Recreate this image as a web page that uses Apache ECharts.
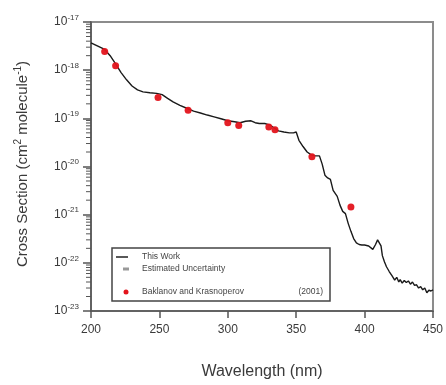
<!DOCTYPE html>
<html>
<head>
<meta charset="utf-8">
<script src="https://cdn.jsdelivr.net/npm/echarts@6/dist/echarts.min.js"></script>
<style>
  html, body { margin: 0; padding: 0; background: #fff; }
  #chart { width: 446px; height: 385px; }
</style>
</head>
<body>
<div id="chart"></div>
<script>
// "This Work" spectrum (nm, cm^2 molecule^-1)
const workWavelength = [
  200, 205, 210, 214, 218, 222, 226, 230, 234, 238, 243, 248, 252, 256, 260, 265, 270, 275, 280, 285,
  290, 295, 300, 305, 309, 313, 317, 320, 323, 327, 331, 334, 337, 341, 345, 348, 350, 352, 355, 358,
  361, 364, 367, 369, 371, 373, 375, 377, 380, 382, 384, 386, 388, 390, 392, 394, 396, 398, 400, 403,
  406, 408, 409.5, 410.5, 412, 413, 414.5, 416, 418, 420, 422, 423.5, 425, 426, 427.5, 429, 430.5, 432,
  433.5, 435, 436.5, 438, 439.5, 441, 442.5, 444, 445.5, 447, 448.5, 450
];
const workSigma = [
  3.7e-18, 3.16e-18, 2.69e-18, 2.0e-18, 1.35e-18, 8.9e-19, 6.3e-19, 4.7e-19, 3.9e-19, 3.55e-19,
  3.4e-19, 3.3e-19, 3.1e-19, 2.6e-19, 2.2e-19, 1.86e-19, 1.62e-19, 1.41e-19, 1.29e-19, 1.17e-19,
  1.07e-19, 9.8e-20, 8.9e-20, 8.5e-20, 8.1e-20, 8.7e-20, 8.9e-20, 8.1e-20, 7.8e-20, 7.8e-20,
  7.2e-20, 6.3e-20, 5.5e-20, 5.2e-20, 5.0e-20, 5.0e-20, 5.2e-20, 3.5e-20, 2.6e-20, 2.0e-20,
  1.74e-20, 1.66e-20, 1.66e-20, 1.12e-20, 6.6e-21, 5.8e-21, 5.4e-21, 3.2e-21, 2.4e-21, 1.58e-21,
  1.17e-21, 1.05e-21, 6.6e-22, 4.5e-22, 3.2e-22, 2.6e-22, 2.4e-22, 2.35e-22, 2.35e-22, 2.24e-22,
  1.9e-22, 2.4e-22, 3.0e-22, 3.3e-22, 2.24e-22, 1.41e-22, 1.05e-22, 8.3e-23, 6.6e-23, 5.4e-23,
  4.4e-23, 5.0e-23, 4.0e-23, 4.5e-23, 3.8e-23, 4.3e-23, 3.9e-23, 4.2e-23,
  3.6e-23, 4.0e-23, 3.4e-23, 3.5e-23, 3.0e-23, 3.2e-23, 2.75e-23, 3.0e-23, 2.4e-23, 2.7e-23, 2.6e-23, 2.75e-23
];

// Baklanov and Krasnoperov (2001)
const bkWavelength = [210, 218, 249, 271, 300, 308, 330, 334.5, 361.5, 390];
const bkSigma = [2.45e-18, 1.23e-18, 2.7e-19, 1.48e-19, 8.1e-20, 7.1e-20, 6.6e-20, 5.8e-20, 1.6e-20, 1.45e-21];

const xTicks = [200, 250, 300, 350, 400, 450];
const yExponents = [-23, -22, -21, -20, -19, -18, -17];
const minorMultipliers = [2, 3, 4, 5, 6, 7, 8, 9];

// the log scale loses precision near 1e-23, so plot in units of 1e-20 cm^2
const UNIT_EXP = -20;
const unit = Math.pow(10, UNIT_EXP);
const toUnit = s => s / unit;

const minorTicks = [];
yExponents.slice(0, -1).forEach(e => {
  minorMultipliers.forEach(m => minorTicks.push([200, m * Math.pow(10, e - UNIT_EXP)]));
});

const chart = echarts.init(document.getElementById('chart'));
const font = 'Liberation Sans, Arial, sans-serif';
const labelColor = '#3a3a3a';

chart.setOption({
  animation: false,
  backgroundColor: '#fff',
  grid: {
    left: 91, right: 12, top: 22, bottom: 68,
    show: true, borderColor: '#8c8c8c', borderWidth: 2
  },
  xAxis: {
    type: 'value', min: 200, max: 450, interval: 50,
    name: 'Wavelength (nm)', nameLocation: 'middle', nameGap: 53,
    nameTextStyle: { fontFamily: font, fontSize: 16, color: labelColor },
    axisLine: { lineStyle: { color: '#555', width: 1.5 } },
    axisTick: { length: 7, lineStyle: { color: '#555', width: 1.5 } },
    axisLabel: {
      margin: 13, fontFamily: font, fontSize: 12, color: labelColor,
      formatter: v => xTicks.includes(v) ? String(v) : ''
    },
    splitLine: { show: false }
  },
  yAxis: {
    type: 'log', logBase: 10,
    min: Math.pow(10, yExponents[0] - UNIT_EXP),
    max: Math.pow(10, yExponents[yExponents.length - 1] - UNIT_EXP),
    name: 'Cross Section (cm{sup|2} molecule{sup|-1})',
    nameLocation: 'middle', nameGap: 59,
    nameTextStyle: {
      fontFamily: font, fontSize: 15, color: labelColor, padding: [0, 0, 0, 5],
      rich: { sup: { fontFamily: font, fontSize: 10, color: labelColor, padding: [0, 0, 9, 0] } }
    },
    axisLine: { show: true, lineStyle: { color: '#555', width: 1.5 } },
    axisTick: { length: 8, lineStyle: { color: '#555', width: 1.5 } },
    axisLabel: {
      margin: 12, fontFamily: font, fontSize: 12, color: labelColor,
      formatter: v => '10{sup|' + (Math.round(Math.log10(v)) + UNIT_EXP) + '}',
      rich: {
        sup: { fontFamily: font, fontSize: 8, color: labelColor, padding: [0, 0, 9, 0] }
      }
    },
    splitLine: { show: false }
  },
  series: [
    {
      name: 'minor ticks', type: 'custom', silent: true, clip: false, z: 1,
      data: minorTicks,
      renderItem: (params, api) => {
        const p = api.coord([api.value(0), api.value(1)]);
        return {
          type: 'line',
          shape: { x1: p[0] - 5, y1: p[1], x2: p[0], y2: p[1] },
          style: { stroke: '#555', lineWidth: 1 }
        };
      }
    },
    {
      name: 'This Work', type: 'line', showSymbol: false, z: 3,
      data: workWavelength.map((w, i) => [w, toUnit(workSigma[i])]),
      lineStyle: { color: '#1a1a1a', width: 1.4 }
    },
    {
      name: 'Baklanov and Krasnoperov', type: 'scatter', z: 4,
      data: bkWavelength.map((w, i) => [w, toUnit(bkSigma[i])]),
      symbol: 'circle', symbolSize: 7,
      itemStyle: { color: '#e3141c', opacity: 0.95 }
    }
  ],
  graphic: [
    {
      type: 'group', x: 112, y: 248,
      children: [
        { type: 'rect', shape: { x: 0, y: 0, width: 218, height: 53 }, style: { fill: '#fff', stroke: '#444', lineWidth: 1.5 } },
        { type: 'line', shape: { x1: 4, y1: 9, x2: 16, y2: 9 }, style: { stroke: '#222', lineWidth: 1.5 } },
        { type: 'text', x: 30, y: 9, style: { text: 'This Work', font: '8.5px ' + font, fill: '#444', verticalAlign: 'middle' } },
        { type: 'rect', shape: { x: 11, y: 19.5, width: 6, height: 3 }, style: { fill: '#999' } },
        { type: 'text', x: 30, y: 21, style: { text: 'Estimated Uncertainty', font: '8.5px ' + font, fill: '#444', verticalAlign: 'middle' } },
        { type: 'circle', shape: { cx: 14, cy: 44, r: 2.5 }, style: { fill: '#e3141c' } },
        { type: 'text', x: 30, y: 44, style: { text: 'Baklanov and Krasnoperov', font: '8.5px ' + font, fill: '#444', verticalAlign: 'middle' } },
        { type: 'text', x: 211, y: 44, style: { text: '(2001)', font: '8.5px ' + font, fill: '#444', align: 'right', verticalAlign: 'middle' } }
      ]
    }
  ]
});
</script>
</body>
</html>
